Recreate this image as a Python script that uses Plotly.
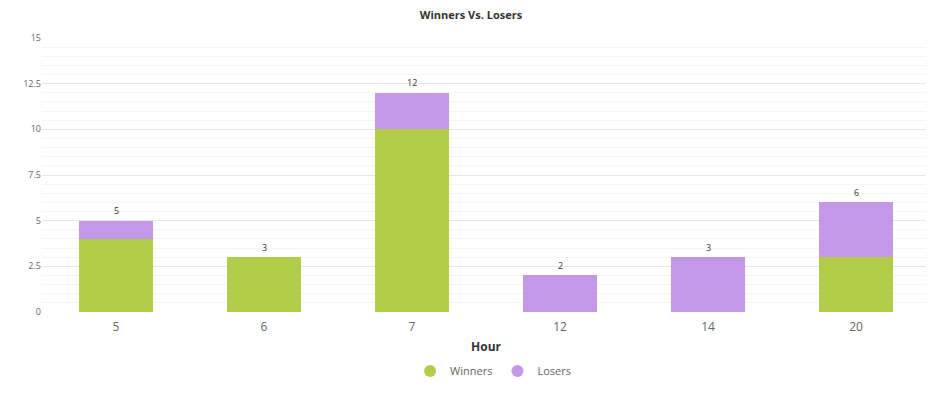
import plotly.graph_objects as go

hours = ["5", "6", "7", "12", "14", "20"]
winners = [4, 3, 10, 0, 0, 3]
losers = [1, 0, 2, 2, 3, 3]
totals = [w + l for w, l in zip(winners, losers)]

green = "#b1cd4a"
purple = "#c398e6"

fig = go.Figure()
fig.add_trace(go.Bar(x=hours, y=winners, name="Winners", marker=dict(color=green, line=dict(width=0)),
                     showlegend=False, hoverinfo="y"))
fig.add_trace(go.Bar(x=hours, y=losers, name="Losers", marker=dict(color=purple, line=dict(width=0)),
                     showlegend=False, hoverinfo="y"))
# legend entries with circle markers
fig.add_trace(go.Scatter(x=[None], y=[None], mode="markers", name="Winners",
                         marker=dict(color=green, size=12, symbol="circle")))
fig.add_trace(go.Scatter(x=[None], y=[None], mode="markers", name="Losers",
                         marker=dict(color=purple, size=12, symbol="circle")))

# total labels above each stack (category index positions)
for i, t in enumerate(totals):
    fig.add_annotation(x=i, y=t, text=str(t), showarrow=False, yshift=10,
                       font=dict(size=9, color="#333"))

H = 386
fig.update_layout(
    width=926, height=H,
    barmode="stack", bargap=0.5,
    margin=dict(l=34, r=4, t=30, b=82),
    plot_bgcolor="white", paper_bgcolor="white",
    font=dict(family="Open Sans, sans-serif", color="#666"),
    title=dict(text="<b>Winners Vs. Losers</b>", x=0.5, xanchor="center", y=1 - 7 / H, yanchor="middle",
               font=dict(size=11, color="#333")),
    legend=dict(orientation="h", x=0.508, xanchor="center", y=(H - 363) / H, yref="container", yanchor="middle",
                font=dict(size=11, color="#666"), itemsizing="constant", traceorder="normal"),
    xaxis=dict(type="category", showgrid=False, zeroline=False, showline=False,
               range=[-0.5, len(hours) - 0.5],
               tickfont=dict(size=12, color="#666"), ticks="", ticklabelstandoff=6,
               title=dict(text="<b>Hour</b>", font=dict(size=12, color="#333"), standoff=8)),
    yaxis=dict(range=[0, 15], dtick=2.5, tick0=0, showgrid=True, gridcolor="#e6e6e6", gridwidth=1,
               zeroline=False, showline=False, tickfont=dict(size=9, color="#666"), ticks="",
               minor=dict(dtick=0.5, showgrid=True, gridcolor="#f5f5f5", gridwidth=1)),
)

fig.write_html("out.html")
